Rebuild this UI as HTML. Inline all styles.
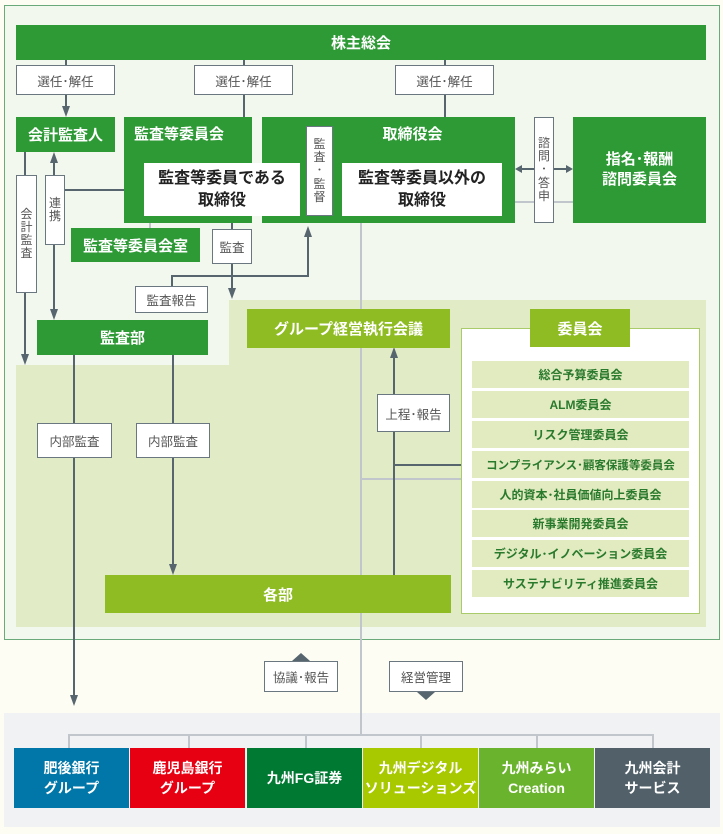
<!DOCTYPE html>
<html><head><meta charset="utf-8"><style>
*{margin:0;padding:0;box-sizing:border-box}
body{width:723px;height:834px;background:#fdfdf4;position:relative;overflow:hidden;font-family:"Liberation Sans","Noto Sans CJK JP",sans-serif}
.a{position:absolute;display:flex;align-items:center;justify-content:center;text-align:center}
.g{background:#2e9a36;color:#fff;font-weight:bold;font-size:15px}
.o{background:#8fbc22;color:#fff;font-weight:bold;font-size:15px}
.w{background:#fff;color:#222;font-weight:bold;font-size:16px;line-height:22px}
.l{background:#fff;border:1px solid #6b7780;color:#555;font-size:12.5px}
.v{line-height:1.1;font-size:12px}
.c{background:#e1ebbf;color:#2a7a2e;font-weight:bold;font-size:12px;left:472px;width:217px;height:27px}
.co{color:#fff;font-weight:bold;font-size:14px;line-height:20px;top:748px;height:60px;width:115px}
</style></head><body>
<div style="position:absolute;left:4px;top:5px;width:716px;height:635px;background:#f3f8ef;border:1px solid #6aaa7a"></div>
<svg style="position:absolute;left:0;top:0" width="723" height="834">
<polygon points="229,300 706,300 706,627 16,627 16,365 229,365" fill="#e1ebc6"/>
<rect x="4" y="713" width="716" height="114" fill="#f1f2f4"/>
<g stroke="#c0c6cb" stroke-width="2" fill="none">
<line x1="361" y1="216" x2="361" y2="735"/>
<line x1="361" y1="479" x2="461" y2="479"/>
<line x1="502" y1="202" x2="573" y2="202"/>
<line x1="69" y1="735" x2="654" y2="735"/>
<line x1="69" y1="734" x2="69" y2="748"/><line x1="189" y1="734" x2="189" y2="748"/><line x1="306" y1="734" x2="306" y2="748"/><line x1="421" y1="734" x2="421" y2="748"/><line x1="537" y1="734" x2="537" y2="748"/><line x1="653" y1="734" x2="653" y2="748"/>
<line x1="150" y1="216" x2="150" y2="228"/>
</g>
<g stroke="#56656e" stroke-width="2" fill="none">
<line x1="66" y1="60" x2="66" y2="108"/>
<line x1="244" y1="60" x2="244" y2="117"/>
<line x1="445" y1="60" x2="445" y2="117"/>
<line x1="25" y1="152" x2="25" y2="356"/>
<line x1="54" y1="160" x2="54" y2="311"/>
<line x1="64" y1="190" x2="124" y2="190"/>
<line x1="232" y1="223" x2="232" y2="290"/>
<polyline points="172,286 172,276 308,276 308,235"/>
<line x1="74" y1="355" x2="74" y2="697"/>
<line x1="173" y1="355" x2="173" y2="566"/>
<line x1="394" y1="575" x2="394" y2="356"/>
<line x1="394" y1="465" x2="461" y2="465"/>
<line x1="520" y1="169" x2="534" y2="169"/><line x1="553" y1="169" x2="568" y2="169"/>
</g>
<g stroke="#fff" stroke-width="1.5"><line x1="244" y1="117" x2="244" y2="155"/><line x1="445" y1="117" x2="445" y2="155"/><line x1="124" y1="190" x2="136" y2="190"/><line x1="300" y1="190" x2="306" y2="190"/><line x1="333" y1="190" x2="336" y2="190"/></g>
<g fill="#56656e">
<polygon points="62,106 70,106 66,117"/>
<polygon points="21,354 29,354 25,365"/>
<polygon points="50,163 58,163 54,152"/>
<polygon points="50,309 58,309 54,320"/>
<polygon points="228,288 236,288 232,299"/>
<polygon points="304,237 312,237 308,226"/>
<polygon points="70,695 78,695 74,706"/>
<polygon points="169,564 177,564 173,575"/>
<polygon points="390,358 398,358 394,347"/>
<polygon points="522,165 522,173 515,169"/>
<polygon points="566,165 566,173 573,169"/>
<polygon points="292,661 310,661 301,653"/>
<polygon points="417,692 435,692 426,700"/>
</g>
<g fill="#fff"><polygon points="240,153 248,153 244,163"/><polygon points="441,153 449,153 445,163"/><polygon points="134,186 134,194 144,190"/><polygon points="334,186 334,194 342,190"/></g>
</svg>
<div class="a g" style="left:16px;top:25px;width:690px;height:35px">株主総会</div>
<div class="a l" style="left:16px;top:65px;width:99px;height:30px">選任･解任</div>
<div class="a l" style="left:194px;top:65px;width:99px;height:30px">選任･解任</div>
<div class="a l" style="left:395px;top:65px;width:99px;height:30px">選任･解任</div>
<div class="a g" style="left:16px;top:117px;width:99px;height:35px">会計監査人</div>
<div class="a g" style="left:124px;top:117px;width:128px;height:106px;align-items:flex-start;justify-content:flex-start;padding:6px 0 0 10px">監査等委員会</div>
<div class="a g" style="left:262px;top:117px;width:253px;height:106px;align-items:flex-start;padding:6px 0 0 48px">取締役会</div>
<div class="a w" style="left:144px;top:163px;width:156px;height:53px">監査等委員である<br>取締役</div>
<div class="a w" style="left:342px;top:163px;width:160px;height:53px">監査等委員以外の<br>取締役</div>
<div class="a l v" style="left:306px;top:126px;width:27px;height:90px">監<br>査<br>･<br>監<br>督</div>
<div class="a l v" style="left:534px;top:117px;width:20px;height:106px">諮<br>問<br>･<br>答<br>申</div>
<div class="a g" style="left:573px;top:117px;width:133px;height:106px;line-height:20px">指名･報酬<br>諮問委員会</div>
<div class="a g" style="left:71px;top:228px;width:129px;height:34px">監査等委員会室</div>
<div class="a l" style="left:212px;top:229px;width:40px;height:35px">監査</div>
<div class="a l v" style="left:16px;top:175px;width:21px;height:118px">会<br>計<br>監<br>査</div>
<div class="a l v" style="left:45px;top:175px;width:20px;height:70px">連<br>携</div>
<div class="a l" style="left:135px;top:286px;width:73px;height:27px">監査報告</div>
<div class="a g" style="left:37px;top:320px;width:171px;height:35px">監査部</div>
<div class="a o" style="left:247px;top:309px;width:203px;height:39px">グループ経営執行会議</div>
<div style="position:absolute;left:461px;top:328px;width:239px;height:286px;background:#fff;border:1.5px solid #a9cb6a"></div>
<div class="a o" style="left:530px;top:309px;width:100px;height:38px">委員会</div>
<div class="a c" style="top:361px">総合予算委員会</div>
<div class="a c" style="top:391px">ALM委員会</div>
<div class="a c" style="top:421px">リスク管理委員会</div>
<div class="a c" style="top:451px;font-size:11.5px">コンプライアンス･顧客保護等委員会</div>
<div class="a c" style="top:481px">人的資本･社員価値向上委員会</div>
<div class="a c" style="top:510px">新事業開発委員会</div>
<div class="a c" style="top:540px">デジタル･イノベーション委員会</div>
<div class="a c" style="top:570px">サステナビリティ推進委員会</div>
<div class="a l" style="left:377px;top:394px;width:73px;height:38px">上程･報告</div>
<div class="a l" style="left:37px;top:423px;width:75px;height:35px">内部監査</div>
<div class="a l" style="left:136px;top:423px;width:74px;height:35px">内部監査</div>
<div class="a o" style="left:105px;top:575px;width:346px;height:38px">各部</div>
<div class="a l" style="left:264px;top:661px;width:74px;height:31px">協議･報告</div>
<div class="a l" style="left:389px;top:661px;width:74px;height:31px">経営管理</div>
<div class="a co" style="left:14px;background:#0077a8">肥後銀行<br>グループ</div>
<div class="a co" style="left:130px;background:#e60012">鹿児島銀行<br>グループ</div>
<div class="a co" style="left:247px;background:#007a33">九州FG証券</div>
<div class="a co" style="left:363px;background:#a8c800">九州デジタル<br>ソリューションズ</div>
<div class="a co" style="left:479px;background:#6ab42d">九州みらい<br>Creation</div>
<div class="a co" style="left:595px;background:#516069">九州会計<br>サービス</div>
</body></html>
